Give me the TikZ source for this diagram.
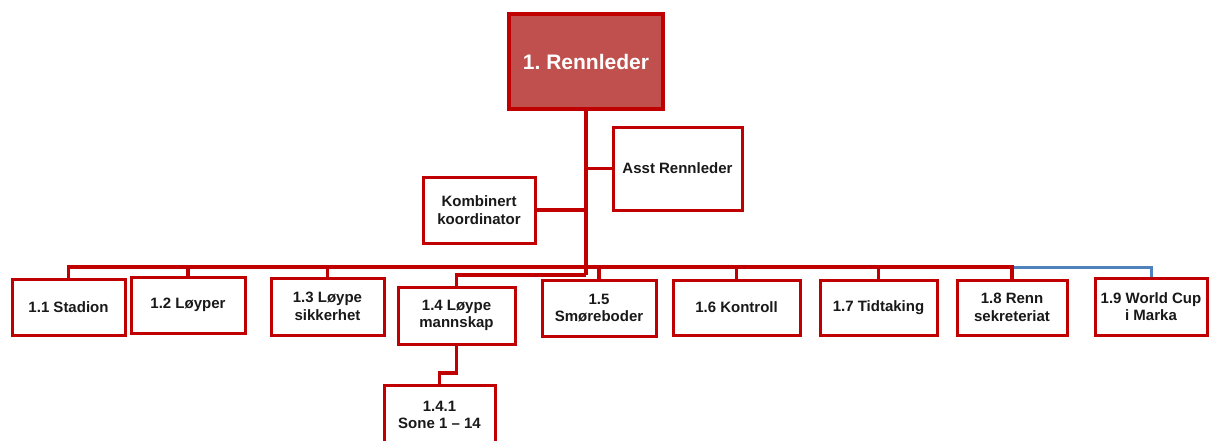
\documentclass[tikz,border=0pt]{standalone}
\usepackage{fontspec}
\setmainfont{Liberation Sans}
\frenchspacing
\definecolor{boxred}{HTML}{C00000}
\definecolor{headfill}{HTML}{C0504D}
\definecolor{linkblue}{HTML}{4F81BD}
\begin{document}
\begin{tikzpicture}[x=1pt,y=-1pt,
  orgbox/.style={draw=boxred, line width=3pt, fill=white, align=center, inner sep=1pt,
    font=\fontsize{15}{17.5}\selectfont\bfseries, text=black!90},
  headbox/.style={draw=boxred, line width=3.5pt, fill=headfill, align=center,
    minimum width=154pt, minimum height=95pt, text=white,
    font=\fontsize{21}{24}\selectfont\bfseries},
  link/.style={draw=boxred, line width=3.5pt},
  bluelink/.style={draw=linkblue, line width=3pt}]
\useasboundingbox (0,0) rectangle (1209,440);
\clip (0,0) rectangle (1209,440);

% junction points
\coordinate (bus) at (586,267);
\coordinate (tail) at (586,275);
\coordinate (j141) at (456.5,373);

% head of the organisation
\node[headbox] (top) at (586,61.5) {1. Rennleder};

% staff positions beside the trunk
\node[orgbox, minimum width=129pt, minimum height=83pt] (asst) at (677.5,168.5) {Asst Rennleder};
\node[orgbox, minimum width=112pt, minimum height=66pt] (komb) at (479,210) {Kombinert\\koordinator};

% departments
\node[orgbox, minimum width=113pt, minimum height=56pt] (n11) at (68.5,307) {1.1 Stadion};
\node[orgbox, minimum width=114pt, minimum height=56pt] (n12) at (188,305) {1.2 Løyper};
\node[orgbox, minimum width=113pt, minimum height=57pt] (n13) at (327.5,306.5) {1.3 Løype\\sikkerhet};
\node[orgbox, minimum width=117pt, minimum height=57pt] (n14) at (456.5,315.5) {1.4 Løype\\mannskap};
\node[orgbox, minimum width=114pt, minimum height=56pt] (n15) at (599,308) {1.5\\Smøreboder};
\node[orgbox, minimum width=127pt, minimum height=55pt] (n16) at (736.5,307.5) {1.6 Kontroll};
\node[orgbox, minimum width=117pt, minimum height=55pt] (n17) at (878.5,307.5) {1.7 Tidtaking};
\node[orgbox, minimum width=110pt, minimum height=55pt] (n18) at (1012,307.5) {1.8 Renn\\sekreteriat};
\node[orgbox, minimum width=112pt, minimum height=57pt] (n19) at (1151,306.5) {1.9 World Cup\\i Marka};
\node[orgbox, minimum width=111pt, minimum height=60pt] (n141) at (439.5,415) {1.4.1\\Sone 1 -- 14};

% connectors
\draw[bluelink] (n18.north |- bus) -| (n19.north);
\draw[link] (top.south) -- (tail);
\draw[link] (asst.west) -- (asst.west -| top.south);
\draw[link] (komb.east) -- (komb.east -| top.south);
\foreach \n in {n11,n12,n13,n15,n16,n17,n18}
  \draw[link] (bus) -| (\n.north);
\draw[link] (tail) -| (n14.north);
\draw[link] (n14.south) -- (j141) -| (n141.north);
\end{tikzpicture}
\end{document}
